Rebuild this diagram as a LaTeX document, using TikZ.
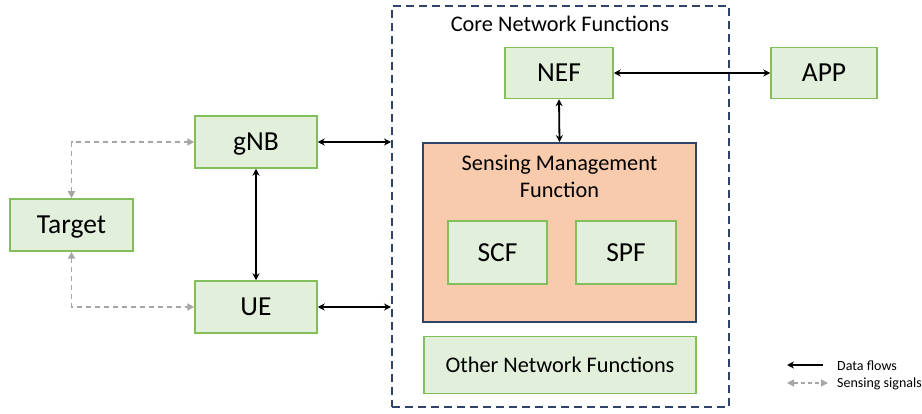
\documentclass[tikz,border=0pt]{standalone}
\usepackage{fontspec}
\setmainfont{Carlito}
\usetikzlibrary{arrows.meta}
\definecolor{gfill}{HTML}{E2EFDA}
\definecolor{gdraw}{HTML}{82BF5A}
\definecolor{ofill}{HTML}{F8CBAD}
\definecolor{navy}{HTML}{2F4468}
\definecolor{sgray}{HTML}{A6A6A6}
\tikzset{
  gbox/.style={draw=gdraw, fill=gfill, line width=1.5pt, inner sep=0pt, font=\fontsize{27.5}{33}\selectfont, text height=17.7pt, text depth=0pt},
  data/.style={line width=1.8pt, {Stealth[length=7pt,width=7pt]}-{Stealth[length=7pt,width=7pt]}},
  sense/.style={line width=1.8pt, draw=sgray, dash pattern=on 5pt off 4pt, {Triangle[length=7pt,width=7pt,fill=sgray]}-{Triangle[length=7pt,width=7pt,fill=sgray]}},
  midtext/.style={font=\fontsize{22.3}{27}\selectfont, inner sep=0pt},
  legtext/.style={font=\fontsize{14}{16}\selectfont, inner sep=0pt, anchor=west}
}
\begin{document}
\begin{tikzpicture}[x=1pt,y=-1pt]
\useasboundingbox (0,0) rectangle (922,414);
% core dashed box
\node[draw=navy, line width=2pt, dash pattern=on 8pt off 5pt, minimum width=337pt, minimum height=401pt, inner sep=0pt] (core) at (560.5,206.5) {};
\node[midtext, text height=14.4pt, text depth=0pt] (coretitle) at (560,24) {Core Network Functions};
% boxes
\node[gbox, minimum width=122pt, minimum height=52pt] (gnb) at (256,142) {gNB};
\node[gbox, minimum width=122pt, minimum height=52pt] (ue) at (256,307) {UE};
\node[gbox, minimum width=123pt, minimum height=52pt] (target) at (71.5,225) {Target};
\node[gbox, minimum width=108pt, minimum height=51pt] (nef) at (559,73) {NEF};
\node[gbox, minimum width=106pt, minimum height=51pt] (app) at (824,73) {APP};
\node[draw=navy, fill=ofill, line width=1.8pt, minimum width=273pt, minimum height=179pt, inner sep=0pt] (smf) at (559.5,232.5) {};
\node[midtext, align=center] (smftitle) at (559.5,176.5) {Sensing Management\\Function};
\node[gbox, minimum width=99pt, minimum height=63pt] (scf) at (497.5,252.5) {SCF};
\node[gbox, minimum width=100pt, minimum height=63pt] (spf) at (626,252.5) {SPF};
\node[gbox, minimum width=272pt, minimum height=57pt, font=\fontsize{22.3}{27}\selectfont, text height=14.4pt] (other) at (560,365) {Other Network Functions};
% data flows
\draw[data] (gnb.east) -- (core.west |- gnb.east);
\draw[data] (ue.east) -- (core.west |- ue.east);
\draw[data] (gnb.south) -- (ue.north);
\draw[data] (nef.south) -- (smf.north);
\draw[data] (nef.east) -- (app.west);
% sensing signals
\draw[sense] (target.north) |- (gnb.west);
\draw[sense] (target.south) |- (ue.west);
% legend
\coordinate (l1a) at (823,365);
\coordinate (l1b) at (787,365);
\coordinate (l2a) at (787,383);
\coordinate (l2b) at (828,383);
\draw[line width=1.8pt, -{Stealth[length=7pt,width=7pt]}] (l1a) -- (l1b);
\draw[sense, line width=1.5pt, dash pattern=on 4pt off 3pt] (l2a) -- (l2b);
\node[legtext] (lt1) at (837,366) {Data flows};
\node[legtext] (lt2) at (837,384) {Sensing signals};
\end{tikzpicture}
\end{document}
